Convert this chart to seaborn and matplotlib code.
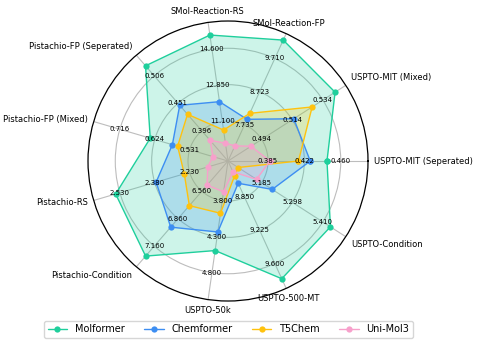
import numpy as np, pandas as pd
import matplotlib; matplotlib.use("Agg")
import matplotlib.pyplot as plt
import seaborn as sns

sns.set_style("white")
plt.rcParams["font.family"] = "DejaVu Sans"
plt.rcParams["text.color"] = "black"

# ---------- data ----------
categories = ["USPTO-MIT (Seperated)", "USPTO-MIT (Mixed)", "SMol-Reaction-FP", "SMol-Reaction-RS",
              "Pistachio-FP (Seperated)", "Pistachio-FP (Mixed)", "Pistachio-RS", "Pistachio-Condition",
              "USPTO-50k", "USPTO-500-MT", "USPTO-Condition"]
# tick values printed on the three rings of each spoke
ring1 = [0.385, 0.494, 7.735, 11.100, 0.396, 0.531, 2.230, 6.560, 3.800, 8.850, 5.185]
ring2 = [0.422, 0.514, 8.723, 12.850, 0.451, 0.624, 2.380, 6.860, 4.300, 9.225, 5.298]
ring3 = [0.460, 0.534, 9.710, 14.600, 0.506, 0.716, 2.530, 7.160, 4.800, 9.600, 5.410]

models = ["Molformer", "Chemformer", "T5Chem", "Uni-Mol3"]
molformer  = [0.445, 0.542, 10.26, 15.30, 0.526, 0.636, 2.548, 7.268, 4.494, 9.772, 5.439]
chemformer = [0.428, 0.515, 7.893, 12.06, 0.447, 0.577, 2.374, 6.952, 4.236, 8.690, 5.224]
t5chem     = [0.416, 0.527, 8.072, 10.68, 0.429, 0.563, 2.253, 6.717, 3.976, 8.603, 5.098]
unimol3    = [0.387, 0.487, 7.100, 10.04, 0.377, 0.469, 2.152, 6.494, 3.677, 8.561, 5.166]
colors = ["#1fcf9c", "#3d8ef2", "#ffc20e", "#f7a0cb"]

# ---------- per-spoke scaling: ring k sits at radius k ----------
n = len(categories)
theta = np.arange(n) * 2 * np.pi / n
lo, mid = np.array(ring1), np.array(ring2)
rows = []
for m, vals in zip(models, [molformer, chemformer, t5chem, unimol3]):
    r = 1 + (np.array(vals) - lo) / (mid - lo)
    th = np.append(theta, 2 * np.pi); rr = np.append(r, r[0])   # close the loop
    rows += [{"model": m, "theta": a, "r": b} for a, b in zip(th, rr)]
df = pd.DataFrame(rows)

fig = plt.figure(figsize=(4.78, 3.45), dpi=100)
ax = fig.add_axes([0.184, 0.1275, 0.586, 0.8116], polar=True)

for m, c in zip(models, colors):
    d = df[df.model == m]
    ax.fill(d.theta, d.r, color=c, alpha=0.22, lw=0, zorder=2)
sns.lineplot(data=df, x="theta", y="r", hue="model", palette=colors, sort=False, estimator=None,
             marker="o", markersize=4.5, markeredgewidth=0, lw=1, ax=ax, zorder=3)
handles, labels = ax.get_legend_handles_labels()
ax.get_legend().remove()

ax.set_ylim(-0.1, 3.75)
ax.set_rgrids([1, 2, 3], labels=[])
ax.set_thetagrids(np.degrees(theta), labels=[])
ax.grid(color="#bdbdbd", lw=0.8)
ax.spines["polar"].set_color("black")
ax.spines["polar"].set_linewidth(0.9)
ax.set_xlabel(""); ax.set_ylabel("")

# ring value labels on each spoke
for i in range(n):
    for k, rv in enumerate([ring1[i], ring2[i], ring3[i]], start=1):
        ax.text(theta[i], k, f"{rv:.3f}", fontsize=5, ha="center", va="center", color="black", zorder=4)

# category labels outside the circle
for t, lab in zip(theta, categories):
    c, s = np.cos(t), np.sin(t)
    ha = "left" if c > 0.5 else ("right" if c < -0.5 else "center")
    va = "bottom" if s > 0.5 else ("top" if s < -0.5 else "center")
    ax.text(t, 3.92, lab, fontsize=6, ha=ha, va=va, color="black")

leg = fig.legend(handles, labels, loc="center", bbox_to_anchor=(0.478, 0.045), ncol=4, fontsize=7,
                 frameon=True, handlelength=2, columnspacing=2.0)
for t in leg.get_texts():
    t.set_color("black")
fig.savefig("out.png", dpi=100, facecolor="white")
